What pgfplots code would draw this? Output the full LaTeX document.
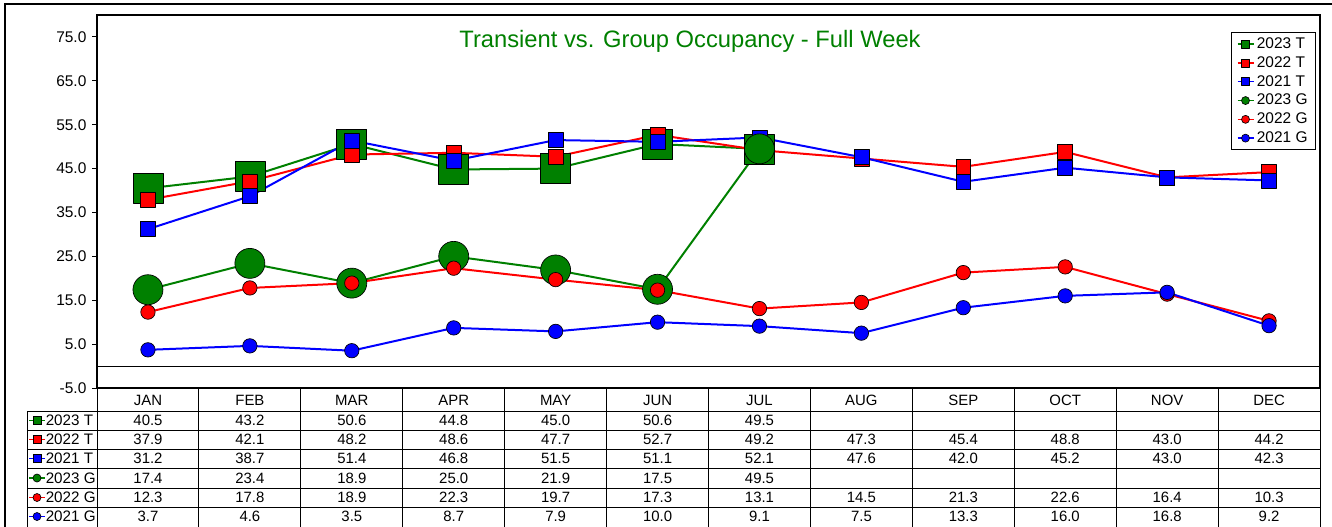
\documentclass[border=0pt]{standalone}
\usepackage{pgfplots}
\pgfplotsset{compat=1.18}
\usepackage{fontspec}
\setmainfont{Liberation Sans}
\definecolor{cg}{RGB}{0,128,0}
\definecolor{cr}{RGB}{255,0,0}
\definecolor{cb}{RGB}{0,0,255}
\begin{document}
\begin{tikzpicture}[x=0.75pt,y=-0.75pt]
\path[use as bounding box] (0,0) rectangle (1332,526);
\draw[line width=0.8pt] (5,530) -- (5,4) -- (1340,4);
\begin{axis}[
  at={(72.75pt,-291pt)}, anchor=south west,
  width=917.25pt, height=279.75pt, scale only axis,
  xmin=-0.5, xmax=11.5, ymin=-5, ymax=80,
  xtick=\empty,
  ytick={-5,5,...,75},
  ytick pos=left, tick align=outside, major tick length=3.75pt,
  tick style={black, line width=0.7pt},
  yticklabel style={/pgf/number format/.cd, fixed, fixed zerofill, precision=1, assume math mode=true},
  every tick label/.append style={font=\fontsize{11.6}{14}\selectfont, inner sep=4pt},
  axis line style={line width=0.8pt},
  clip=false,
  legend style={at={(0.9967,0.9544)}, anchor=north east, draw=black, line width=0.6pt,
    font=\fontsize{11.6}{12}\selectfont, row sep=0.5pt, inner xsep=4pt, inner ysep=2pt,
    cells={anchor=west}},
  legend image code/.code={
    \draw[#1, line width=1pt] (0pt,0pt) -- (12pt,0pt);
    \draw[#1, mark size=3pt] plot coordinates {(6pt,0pt)};
  },
  every axis plot/.append style={line width=1.5pt, line join=round},
]
\addplot[cg, mark=square*, mark size=11.25pt, mark options={draw=black, line width=0.5pt, fill=cg}] coordinates {
(0,40.5) (1,43.2) (2,50.6) (3,44.8) (4,45.0) (5,50.6) (6,49.5)};
\addlegendentry{2023 T}
\addplot[cr, mark=square*, mark size=5.6pt, mark options={draw=black, line width=0.5pt, fill=cr}] coordinates {
(0,37.9) (1,42.1) (2,48.2) (3,48.6) (4,47.7) (5,52.7) (6,49.2) (7,47.3) (8,45.4) (9,48.8) (10,43.0) (11,44.2)};
\addlegendentry{2022 T}
\addplot[cb, mark=square*, mark size=5.6pt, mark options={draw=black, line width=0.5pt, fill=cb}] coordinates {
(0,31.2) (1,38.7) (2,51.4) (3,46.8) (4,51.5) (5,51.1) (6,52.1) (7,47.6) (8,42.0) (9,45.2) (10,43.0) (11,42.3)};
\addlegendentry{2021 T}
\addplot[cg, mark=*, mark size=11.25pt, mark options={draw=black, line width=0.5pt, fill=cg}] coordinates {
(0,17.4) (1,23.4) (2,18.9) (3,25.0) (4,21.9) (5,17.5) (6,49.5)};
\addlegendentry{2023 G}
\addplot[cr, mark=*, mark size=5.4pt, mark options={draw=black, line width=0.5pt, fill=cr}] coordinates {
(0,12.3) (1,17.8) (2,18.9) (3,22.3) (4,19.7) (5,17.3) (6,13.1) (7,14.5) (8,21.3) (9,22.6) (10,16.4) (11,10.3)};
\addlegendentry{2022 G}
\addplot[cb, mark=*, mark size=5.4pt, mark options={draw=black, line width=0.5pt, fill=cb}] coordinates {
(0,3.7) (1,4.6) (2,3.5) (3,8.7) (4,7.9) (5,10.0) (6,9.1) (7,7.5) (8,13.3) (9,16.0) (10,16.8) (11,9.2)};
\addlegendentry{2021 G}
\draw[black, line width=0.8pt] (axis cs:-0.5,0) -- (axis cs:11.5,0);
\end{axis}
% title
\node[anchor=base, text=cg, font=\fontsize{17.8}{20}\selectfont, inner sep=0pt] at (690,47) {Transient vs. Group Occupancy - Full Week};
% table
\begin{scope}[line width=0.7pt, black]
\foreach \yy in {411,430,449,468,488,507} \draw (27,\yy) -- (1320,\yy);
\draw (27,411) -- (27,530);
\foreach \k in {0,...,12} \draw ({97+\k*101.9167},388) -- ({97+\k*101.9167},530);
\end{scope}
\begin{scope}[font=\fontsize{11.2}{14}\selectfont]
\foreach \m [count=\i from 0] in {JAN,FEB,MAR,APR,MAY,JUN,JUL,AUG,SEP,OCT,NOV,DEC}
  \node[anchor=base, inner sep=0pt] at ({148+\i*101.9167},405.5) {\m};
\foreach \v [count=\i from 0] in {40.5,43.2,50.6,44.8,45.0,50.6,49.5}
  \node[anchor=base, inner sep=0pt] at ({148+\i*101.9167},425.5) {\v};
\foreach \v [count=\i from 0] in {37.9,42.1,48.2,48.6,47.7,52.7,49.2,47.3,45.4,48.8,43.0,44.2}
  \node[anchor=base, inner sep=0pt] at ({148+\i*101.9167},444.5) {\v};
\foreach \v [count=\i from 0] in {31.2,38.7,51.4,46.8,51.5,51.1,52.1,47.6,42.0,45.2,43.0,42.3}
  \node[anchor=base, inner sep=0pt] at ({148+\i*101.9167},463.5) {\v};
\foreach \v [count=\i from 0] in {17.4,23.4,18.9,25.0,21.9,17.5,49.5}
  \node[anchor=base, inner sep=0pt] at ({148+\i*101.9167},483) {\v};
\foreach \v [count=\i from 0] in {12.3,17.8,18.9,22.3,19.7,17.3,13.1,14.5,21.3,22.6,16.4,10.3}
  \node[anchor=base, inner sep=0pt] at ({148+\i*101.9167},502.5) {\v};
\foreach \v [count=\i from 0] in {3.7,4.6,3.5,8.7,7.9,10.0,9.1,7.5,13.3,16.0,16.8,9.2}
  \node[anchor=base, inner sep=0pt] at ({148+\i*101.9167},521.5) {\v};
\end{scope}
% row labels with icons
\begin{scope}[font=\fontsize{11.4}{14}\selectfont]
\foreach \lab/\col/\mk/\yc in {2023 T/cg/square*/420.5, 2022 T/cr/square*/439.5, 2021 T/cb/square*/458.5, 2023 G/cg/*/478, 2022 G/cr/*/497.5, 2021 G/cb/*/516.5} {
  \draw[\col, line width=1pt] (29,\yc) -- (45,\yc);
  \path[mark size=3pt] plot[mark=\mk, mark options={draw=black, line width=0.5pt, fill=\col}] coordinates {(37,\yc)};
  \node[anchor=base west, inner sep=0pt] at (45.5,\yc+5) {\lab};
}
\end{scope}
\end{tikzpicture}
\end{document}
